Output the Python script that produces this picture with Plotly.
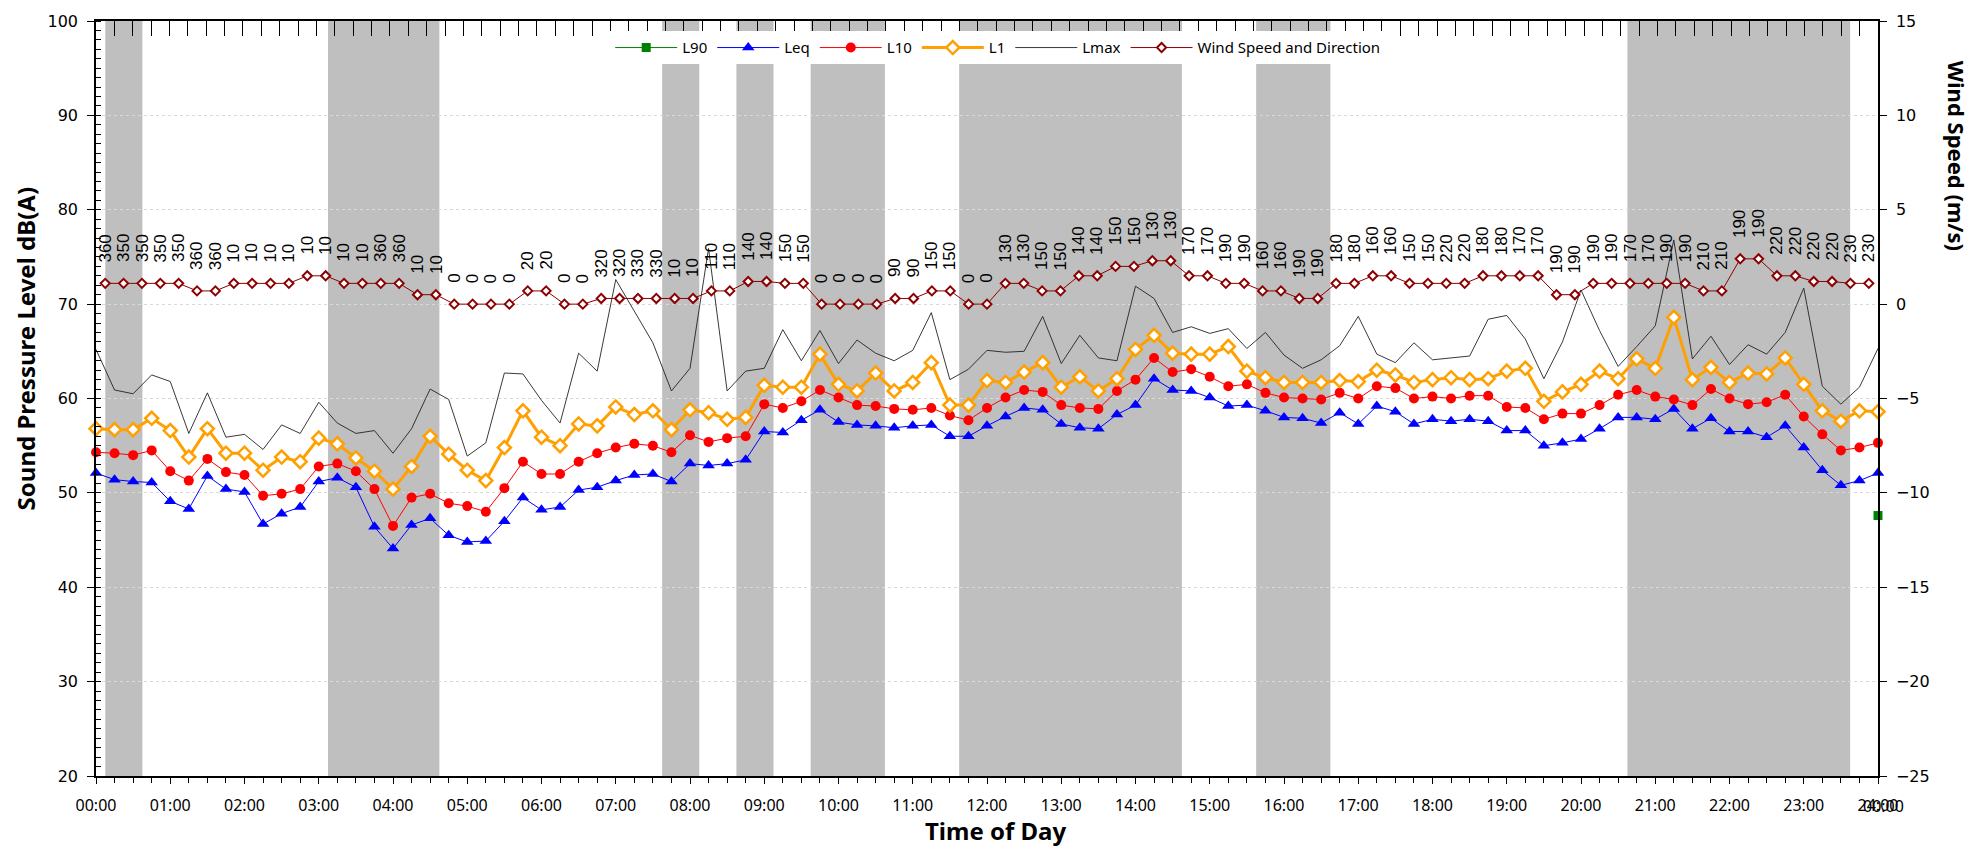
import plotly.graph_objects as go

# ---------------------------------------------------------------------------
# Data: 15-minute statistics over one day (00:00 .. 24:00, 97 intervals)
# ---------------------------------------------------------------------------
interval_minutes = list(range(0, 24 * 60 + 1, 15))

leq = [52.1, 51.4, 51.2, 51.1, 49.1, 48.3, 51.8, 50.4, 50.1, 46.7, 47.8, 48.5, 51.2, 51.6, 50.6, 46.4, 44.1,
       46.6, 47.3, 45.5, 44.8, 44.9, 47.0, 49.5, 48.2, 48.5, 50.3, 50.6, 51.3, 51.9, 52.0, 51.2, 53.1,
       52.9, 53.1, 53.5, 56.5, 56.4, 57.7, 58.8, 57.5, 57.2, 57.1, 56.9, 57.1, 57.2, 56.0, 56.0, 57.1,
       58.1, 59.0, 58.8, 57.3, 56.9, 56.8, 58.3, 59.3, 62.1, 60.9, 60.8, 60.1, 59.2, 59.3, 58.7, 58.0,
       57.9, 57.4, 58.5, 57.3, 59.2, 58.6, 57.3, 57.8, 57.6, 57.8, 57.6, 56.6, 56.6, 55.0, 55.3, 55.7,
       56.8, 58.0, 58.0, 57.8, 58.9, 56.8, 57.9, 56.5, 56.5, 55.9, 57.1, 54.8, 52.4, 50.8, 51.3, 52.1]

l10 = [54.3, 54.2, 54.0, 54.5, 52.3, 51.3, 53.6, 52.2, 51.9, 49.7, 49.9, 50.4, 52.8, 53.1, 52.3, 50.4, 46.5,
       49.5, 49.9, 48.9, 48.6, 48.0, 50.5, 53.3, 52.0, 52.0, 53.3, 54.2, 54.8, 55.2, 55.0, 54.3, 56.1,
       55.4, 55.8, 56.0, 59.4, 59.0, 59.7, 60.9, 60.1, 59.3, 59.2, 58.9, 58.8, 59.0, 58.2, 57.7, 59.0,
       60.1, 60.9, 60.7, 59.3, 59.0, 58.9, 60.8, 62.0, 64.3, 62.8, 63.1, 62.3, 61.3, 61.5, 60.6, 60.1,
       60.0, 59.9, 60.6, 60.0, 61.3, 61.1, 60.0, 60.2, 60.0, 60.3, 60.3, 59.1, 59.0, 57.8, 58.4, 58.4,
       59.3, 60.4, 60.9, 60.2, 59.9, 59.3, 61.0, 60.0, 59.4, 59.6, 60.4, 58.1, 56.2, 54.5, 54.8, 55.3]

l1 = [56.8, 56.7, 56.7, 57.9, 56.6, 53.8, 56.8, 54.2, 54.2, 52.4, 53.8, 53.3, 55.8, 55.2, 53.7, 52.3, 50.4,
      52.8, 56.0, 54.1, 52.4, 51.3, 54.8, 58.7, 55.9, 55.0, 57.3, 57.1, 59.1, 58.3, 58.7, 56.7, 58.8,
      58.5, 57.8, 58.0, 61.4, 61.2, 61.2, 64.7, 61.5, 60.8, 62.7, 60.8, 61.7, 63.8, 59.3, 59.3, 61.9,
      61.7, 62.8, 63.8, 61.2, 62.3, 60.8, 62.1, 65.2, 66.7, 64.8, 64.7, 64.7, 65.5, 62.9, 62.2, 61.7,
      61.7, 61.7, 61.9, 61.8, 63.0, 62.5, 61.7, 62.0, 62.2, 62.0, 62.1, 62.9, 63.2, 59.7, 60.7, 61.5,
      62.9, 62.1, 64.2, 63.2, 68.6, 62.0, 63.3, 61.7, 62.7, 62.6, 64.3, 61.5, 58.7, 57.6, 58.7, 58.6]

lmax = [65.2, 60.9, 60.5, 62.5, 61.8, 56.3, 60.6, 55.9, 56.2, 54.6, 57.2, 56.3, 59.6, 57.4, 56.3, 56.6, 54.2,
        56.8, 61.0, 59.9, 53.9, 55.3, 62.7, 62.6, 59.8, 57.4, 64.8, 62.9, 72.6, 69.2, 65.9, 60.8, 63.2,
        75.9, 60.8, 62.9, 63.2, 67.3, 64.0, 67.2, 63.7, 66.2, 64.8, 64.0, 65.1, 69.1, 62.0, 63.1, 65.1,
        64.9, 65.0, 68.7, 63.7, 66.7, 64.3, 64.0, 71.9, 70.6, 67.0, 67.6, 66.9, 67.4, 65.3, 67.0, 64.6,
        63.2, 64.1, 65.6, 68.7, 64.7, 63.8, 65.9, 64.1, 64.3, 64.5, 68.4, 68.8, 66.3, 62.1, 66.0, 71.5,
        67.2, 63.4, 65.5, 67.7, 76.8, 64.2, 66.6, 63.6, 65.7, 64.7, 67.0, 71.7, 61.3, 59.4, 61.2, 65.3]

# L90 only has a reading at the end of the day
l90_times = ["24:00"]
l90 = [47.6]

# Wind: one reading per interval, plotted on the category (top) axis
wind_speed = [1.1, 1.1, 1.1, 1.1, 1.1, 0.7, 0.7, 1.1, 1.1, 1.1, 1.1, 1.5, 1.5, 1.1, 1.1, 1.1, 1.1,
              0.5, 0.5, 0.0, 0.0, 0.0, 0.0, 0.7, 0.7, 0.0, 0.0, 0.3, 0.3, 0.3, 0.3, 0.3, 0.3,
              0.7, 0.7, 1.2, 1.2, 1.1, 1.1, 0.0, 0.0, 0.0, 0.0, 0.3, 0.3, 0.7, 0.7, 0.0, 0.0,
              1.1, 1.1, 0.7, 0.7, 1.5, 1.5, 2.0, 2.0, 2.3, 2.3, 1.5, 1.5, 1.1, 1.1, 0.7, 0.7,
              0.3, 0.3, 1.1, 1.1, 1.5, 1.5, 1.1, 1.1, 1.1, 1.1, 1.5, 1.5, 1.5, 1.5, 0.5, 0.5,
              1.1, 1.1, 1.1, 1.1, 1.1, 1.1, 0.7, 0.7, 2.4, 2.4, 1.5, 1.5, 1.2, 1.2, 1.1, 1.1]

wind_dir = [360, 350, 350, 350, 350, 360, 360, 10, 10, 10, 10, 10, 10, 10, 10, 360, 360,
            10, 10, 0, 0, 0, 0, 20, 20, 0, 0, 320, 320, 330, 330, 10, 10,
            110, 110, 140, 140, 150, 150, 0, 0, 0, 0, 90, 90, 150, 150, 0, 0,
            130, 130, 150, 150, 140, 140, 150, 150, 130, 130, 170, 170, 190, 190, 160, 160,
            190, 190, 180, 180, 160, 160, 150, 150, 220, 220, 180, 180, 170, 170, 190, 190,
            190, 190, 170, 170, 190, 190, 210, 210, 190, 190, 220, 220, 220, 220, 230, 230]

# Shaded periods (start, end) in minutes after midnight
shaded_periods = [(7.5, 37.5), (187.5, 277.5), (457.5, 487.5), (517.5, 547.5),
                  (577.5, 637.5), (697.5, 877.5), (937.5, 997.5), (1237.5, 1417.5)]

hour_labels = [f"{h:02d}:00" for h in range(25)]


def to_hours(hhmm):
    h, m = hhmm.split(":")
    return int(h) + int(m) / 60


hours = [m / 60 for m in interval_minutes]
wind_cat = list(range(len(wind_speed)))

fig = go.Figure()

fig.add_trace(go.Scatter(
    x=[to_hours(t) for t in l90_times], y=l90, name="L90", mode="lines+markers",
    line=dict(color="#008000", width=1),
    marker=dict(symbol="square", size=9, color="#008000"), cliponaxis=False))

fig.add_trace(go.Scatter(
    x=hours, y=leq, name="Leq", mode="lines+markers",
    line=dict(color="#0000FF", width=1),
    marker=dict(symbol="triangle-up", size=11, color="#0000FF"), cliponaxis=False))

fig.add_trace(go.Scatter(
    x=hours, y=l10, name="L10", mode="lines+markers",
    line=dict(color="#FF0000", width=1),
    marker=dict(symbol="circle", size=10, color="#FF0000"), cliponaxis=False))

fig.add_trace(go.Scatter(
    x=hours, y=l1, name="L1", mode="lines+markers",
    line=dict(color="#FFA000", width=3),
    marker=dict(symbol="diamond", size=10, color="white",
                line=dict(color="#FFA000", width=2.5)), cliponaxis=False))

fig.add_trace(go.Scatter(
    x=hours, y=lmax, name="Lmax", mode="lines",
    line=dict(color="#222222", width=0.9), cliponaxis=False))

fig.add_trace(go.Scatter(
    x=wind_cat, y=wind_speed, name="Wind Speed and Direction", mode="lines+markers",
    xaxis="x2", yaxis="y2",
    line=dict(color="#8B0000", width=1),
    marker=dict(symbol="diamond", size=7, color="white",
                line=dict(color="#8B0000", width=2)), cliponaxis=False))

# Wind-direction labels above each wind marker
annotations = []
for k, (ws, wd) in enumerate(zip(wind_speed, wind_dir)):
    annotations.append(dict(
        x=k, y=ws, xref="x2", yref="y2", text=str(wd), showarrow=False,
        textangle=-90, xanchor="center", yanchor="bottom", yshift=19,
        font=dict(family="Liberation Sans, Arial", size=17, color="black")))

# Axis titles
annotations.append(dict(
    x=-0.0398, y=0.5664, xref="paper", yref="paper", text="Sound Pressure Level dB(A)",
    showarrow=False, textangle=-90, xanchor="center", yanchor="middle",
    font=dict(family="Noto Sans", size=24, color="black", weight="bold")))
annotations.append(dict(
    x=1.044, y=0.821, xref="paper", yref="paper", text="Wind Speed (m/s)",
    showarrow=False, textangle=90, xanchor="center", yanchor="middle",
    font=dict(family="Noto Sans", size=22, color="black", weight="bold")))
annotations.append(dict(
    x=0.505, y=-0.0723, xref="paper", yref="paper", text="Time of Day",
    showarrow=False, xanchor="center", yanchor="middle",
    font=dict(family="Noto Sans", size=24, color="black", weight="bold")))
annotations.append(dict(
    x=24, y=20, xref="x", yref="y", text="00:00", showarrow=False,
    xanchor="center", yanchor="top", xshift=5, yshift=-17,
    font=dict(family="Noto Sans", size=16, color="black")))

shapes = [dict(type="rect", xref="x", yref="paper",
               x0=s / 60, x1=e / 60, y0=0, y1=1,
               fillcolor="#BFBFBF", line=dict(width=0), layer="between")
          for s, e in shaded_periods]

fig.update_layout(
    width=1982, height=848,
    margin=dict(l=96, r=104, t=15, b=72),
    paper_bgcolor="white", plot_bgcolor="white",
    showlegend=True,
    legend=dict(orientation="h", x=0.506, y=0.9645, xanchor="center", yanchor="middle",
                bgcolor="white", font=dict(family="Noto Sans", size=15, color="black"),
                itemwidth=62),
    xaxis=dict(range=[0, 24], tickvals=list(range(25)), ticktext=hour_labels,
               ticks="outside", ticklen=6, tickcolor="black",
               minor=dict(dtick=0.25, ticks="outside", ticklen=5, tickcolor="black"),
               showline=True, linecolor="black", linewidth=1.5,
               showgrid=False, zeroline=False, ticklabelstandoff=8,
               tickfont=dict(family="Noto Sans", size=16, color="black")),
    xaxis2=dict(overlaying="x", side="top", anchor="y", range=[-0.5, 96.5],
                tickvals=[k - 0.5 for k in range(len(wind_speed) + 1)],
                ticks="inside", ticklen=15, tickcolor="black", showticklabels=False,
                showline=True, linecolor="black", linewidth=1.5,
                showgrid=False, zeroline=False),
    yaxis=dict(range=[20, 100], dtick=10, ticks="outside", ticklen=7, tickcolor="black",
               minor=dict(dtick=1, ticks="inside", ticklen=5, tickcolor="black"),
               showline=True, linecolor="black", linewidth=1.5,
               showgrid=True, gridcolor="#D9D9D9", griddash="dot", gridwidth=1,
               zeroline=False, ticklabelstandoff=6,
               tickfont=dict(family="DejaVu Sans", size=16, color="black")),
    yaxis2=dict(overlaying="y", side="right", anchor="x", range=[-25, 15], dtick=5,
                ticks="outside", ticklen=7, tickcolor="black",
                showline=True, linecolor="black", linewidth=1.5,
                showgrid=False, zeroline=False, ticklabelstandoff=6,
                tickfont=dict(family="DejaVu Sans", size=16, color="black")),
    annotations=annotations,
    shapes=shapes,
)

fig.write_html("out.html")
